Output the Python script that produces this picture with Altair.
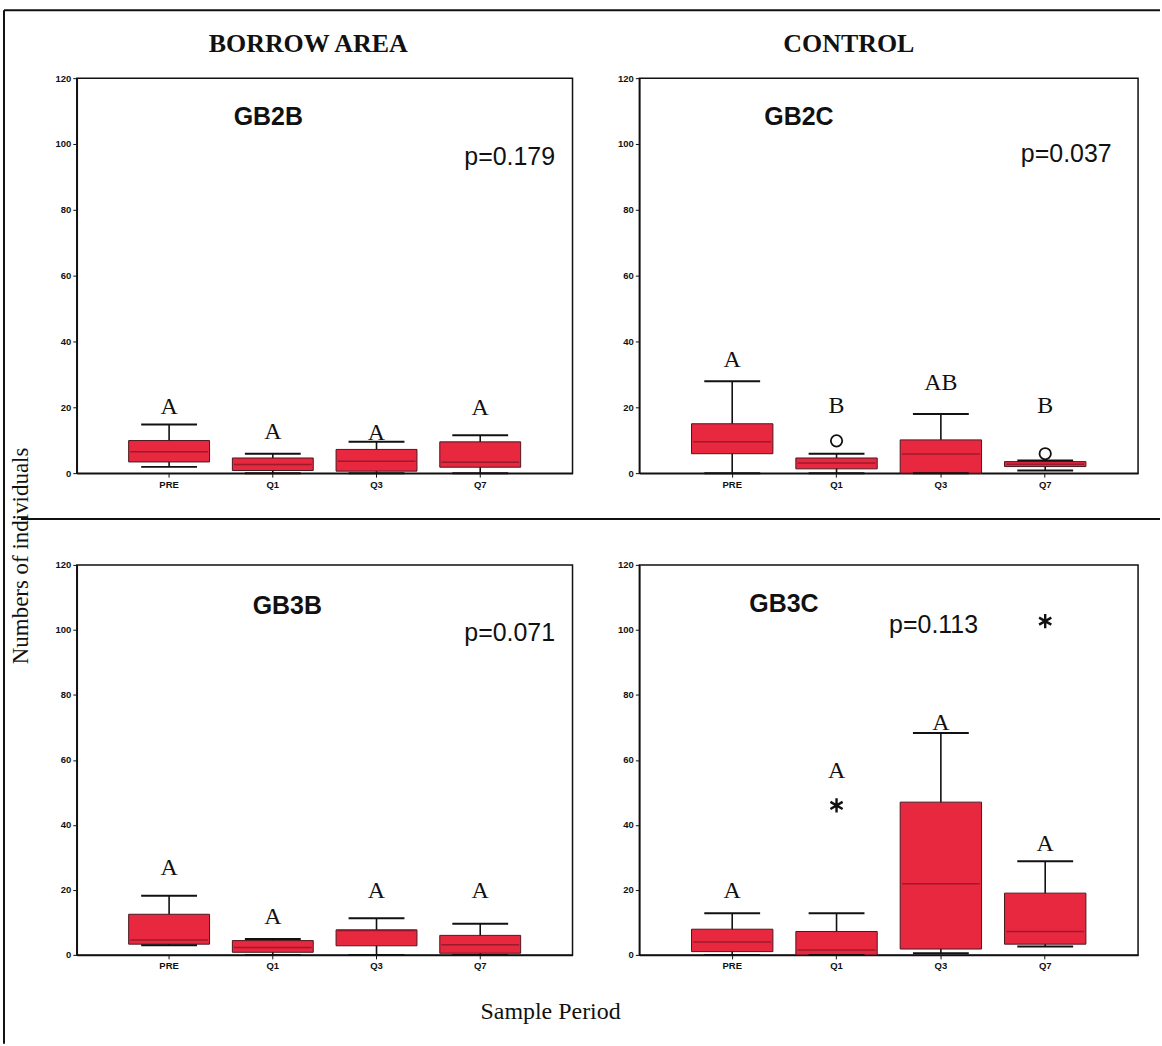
import altair as alt
import pandas as pd

periods = ["PRE", "Q1", "Q3", "Q7"]

# GB2B (borrow area, site 2)
gb2b_low = [1.9, 0.0, 0.0, 0.0]
gb2b_q1 = [3.4, 0.8, 0.6, 1.8]
gb2b_med = [6.5, 2.6, 3.6, 3.3]
gb2b_q3 = [9.9, 4.6, 7.2, 9.5]
gb2b_high = [14.8, 5.9, 9.5, 11.5]
gb2b_letters = ["A", "A", "A", "A"]
gb2b_letter_y = [20.0, 12.5, 12.3, 19.7]
gb2b_out_period = []
gb2b_out_value = []

# GB2C (control, site 2)
gb2c_low = [0.0, 0.0, 0.0, 0.8]
gb2c_q1 = [5.9, 1.3, 0.0, 2.0]
gb2c_med = [9.5, 3.1, 5.8, 2.7]
gb2c_q3 = [15.0, 4.6, 10.1, 3.5]
gb2c_high = [27.9, 5.9, 18.0, 3.8]
gb2c_letters = ["A", "B", "AB", "B"]
gb2c_letter_y = [34.5, 20.3, 27.4, 20.3]
gb2c_out_period = ["Q1", "Q7"]
gb2c_out_value = [9.8, 5.9]

# GB3B (borrow area, site 3)
gb3b_low = [3.0, 0.0, 0.0, 0.0]
gb3b_q1 = [3.3, 0.8, 2.8, 0.5]
gb3b_med = [4.6, 2.3, 7.5, 3.1]
gb3b_q3 = [12.5, 4.4, 7.7, 6.0]
gb3b_high = [18.2, 4.9, 11.3, 9.6]
gb3b_letters = ["A", "A", "A", "A"]
gb3b_letter_y = [26.7, 11.8, 19.5, 19.5]
gb3b_out_period = []
gb3b_out_value = []

# GB3C (control, site 3)
gb3c_low = [0.0, 0.0, 0.5, 2.6]
gb3c_q1 = [1.0, 0.0, 1.8, 3.3]
gb3c_med = [4.0, 1.5, 21.9, 7.2]
gb3c_q3 = [7.9, 7.2, 47.0, 19.0]
gb3c_high = [12.8, 12.8, 68.3, 28.8]
gb3c_letters = ["A", "A", "A", "A"]
gb3c_letter_y = [19.5, 56.5, 71.4, 34.1]
gb3c_out_period = ["Q1", "Q7"]
gb3c_out_value = [46.0, 102.7]

column_headers = ["BORROW AREA", "CONTROL"]
y_title = "Numbers of individuals"
x_title = "Sample Period"

BOX_RED = "#e8283f"
INK = "#111111"
SERIF = "Liberation Serif"
SANS = "Liberation Sans"
ASTERISK = "M0,-1L0,1M-0.866,-0.5L0.866,0.5M-0.866,0.5L0.866,-0.5"


def note(text, x, y, **style):
    """A single piece of free-standing text placed in pixel coordinates."""
    return alt.Chart(pd.DataFrame({"t": [text]})).mark_text(**style).encode(
        text="t:N", x=alt.value(x), y=alt.value(y)
    )


def line(x, y, x2=None, y2=None):
    enc = {"x": alt.value(x), "y": alt.value(y)}
    if x2 is not None:
        enc["x2"] = alt.value(x2)
    if y2 is not None:
        enc["y2"] = alt.value(y2)
    return alt.Chart(pd.DataFrame({"k": [0]})).mark_rule(
        color=INK, strokeWidth=2
    ).encode(**enc)


def panel(low, q1, med, q3, high, letters, letter_y, out_p, out_v,
          out_shape, name, name_xy, pval, p_xy, width, height, extras=()):
    df = pd.DataFrame({
        "period": periods, "low": low, "q1": q1, "med": med,
        "q3": q3, "high": high, "letter": letters, "ly": letter_y,
    })
    x = alt.X("period:N", sort=periods,
              scale=alt.Scale(paddingInner=0.22, paddingOuter=0.5),
              axis=alt.Axis(title="", labelAngle=0))

    def y(field):
        return alt.Y(f"{field}:Q", scale=alt.Scale(domain=[0, 120], nice=False),
                     axis=alt.Axis(title="", values=[0, 20, 40, 60, 80, 100, 120]))

    base = alt.Chart(df).encode(x=x)
    whisker = base.mark_rule(color=INK, strokeWidth=1.6).encode(
        y=y("low"), y2="high:Q")
    box = base.mark_bar(color=BOX_RED, stroke="#4a1820", strokeWidth=1).encode(
        y=y("q1"), y2="q3:Q")
    median = base.mark_tick(color="#7a1424", thickness=1.5, size=78).encode(
        y=y("med"))
    cap_hi = base.mark_tick(color=INK, thickness=2, size=56,
                            opacity=1).encode(y=y("high"))
    cap_lo = base.mark_tick(color=INK, thickness=2, size=56,
                            opacity=1).encode(y=y("low"))
    letter = base.mark_text(font=SERIF, fontSize=24, baseline="middle",
                            color=INK).encode(y=y("ly"), text="letter:N")
    layers = [whisker, box, median, cap_hi, cap_lo, letter]

    if out_p:
        odf = pd.DataFrame({"period": out_p, "value": out_v})
        if out_shape == "circle":
            pt = alt.Chart(odf).mark_point(shape="circle", filled=False,
                                           size=130, color=INK, strokeWidth=1.8,
                                           opacity=1)
        else:
            pt = alt.Chart(odf).mark_point(shape=ASTERISK, filled=False,
                                           size=200, color=INK, strokeWidth=2.4,
                                           opacity=1)
        layers.append(pt.encode(x=x, y=y("value")))

    layers.append(note(name, name_xy[0], name_xy[1], font=SANS, fontSize=25,
                       fontWeight="bold", baseline="middle", color=INK))
    layers.append(note(pval, p_xy[0], p_xy[1], font=SANS, fontSize=25,
                       baseline="middle", color=INK))
    layers.extend(extras)
    return alt.layer(*layers).properties(width=width, height=height)


W1, W2 = 497, 500
H1, H2 = 396, 391

# Figure-wide furniture drawn relative to the top-left panel
furniture = [
    line(-73, -68, x2=1086),                 # top border
    line(-73, -68, y2=968),                  # left border
    line(-56, H1 + 46, x2=1086),             # row separator
    note(column_headers[0], 232, -34, font=SERIF, fontSize=26,
         fontWeight="bold", baseline="middle", color=INK),
    note(y_title, -56, 479, font=SERIF, fontSize=23, angle=270,
         baseline="middle", color=INK),
    note(x_title, 475, 936, font=SERIF, fontSize=24,
         baseline="middle", color=INK),
]

p1 = panel(gb2b_low, gb2b_q1, gb2b_med, gb2b_q3, gb2b_high, gb2b_letters,
           gb2b_letter_y, gb2b_out_period, gb2b_out_value, "circle",
           "GB2B", (192, 39), "p=0.179", (434, 79), W1, H1, furniture)
p2 = panel(gb2c_low, gb2c_q1, gb2c_med, gb2c_q3, gb2c_high, gb2c_letters,
           gb2c_letter_y, gb2c_out_period, gb2c_out_value, "circle",
           "GB2C", (160, 39), "p=0.037", (428, 76), W2, H1,
           [note(column_headers[1], 210, -34, font=SERIF, fontSize=26,
                 fontWeight="bold", baseline="middle", color=INK)])
p3 = panel(gb3b_low, gb3b_q1, gb3b_med, gb3b_q3, gb3b_high, gb3b_letters,
           gb3b_letter_y, gb3b_out_period, gb3b_out_value, "circle",
           "GB3B", (211, 41), "p=0.071", (434, 68), W1, H2)
p4 = panel(gb3c_low, gb3c_q1, gb3c_med, gb3c_q3, gb3c_high, gb3c_letters,
           gb3c_letter_y, gb3c_out_period, gb3c_out_value, "asterisk",
           "GB3C", (145, 39), "p=0.113", (295, 60), W2, H2)

chart = alt.concat(
    p1, p2, p3, p4, columns=2,
    spacing={"row": 92, "column": 67}, bounds="flush",
).properties(
    padding={"left": 2, "top": 7, "right": 0, "bottom": 0},
    background="white",
).configure_view(
    stroke=INK, strokeWidth=1.5
).configure_axis(
    labelFont=SANS, labelFontSize=9.5, labelFontWeight="bold",
    labelColor=INK, domainColor=INK, domainWidth=1.5,
    tickColor=INK, tickSize=4, grid=False,
)

chart.save("out.html", embed_options={"renderer": "svg", "actions": False})
